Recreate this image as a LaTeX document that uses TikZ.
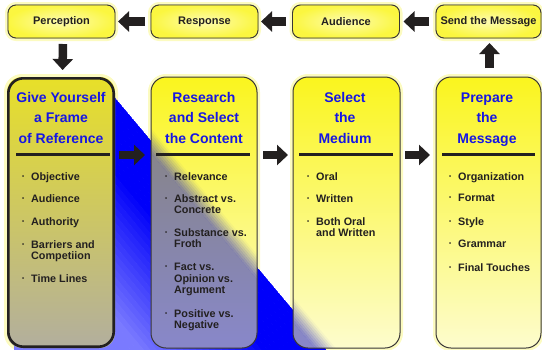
\documentclass[tikz,border=0pt]{standalone}
\usepackage{fontspec}
\setmainfont{Liberation Sans}
\usetikzlibrary{arrows.meta}
\definecolor{ttl}{RGB}{22,22,228}
\definecolor{ink}{RGB}{35,32,32}
\definecolor{deepb}{RGB}{0,0,250}
\definecolor{lightb}{RGB}{122,122,255}
\definecolor{ovl}{RGB}{20,20,200}
\definecolor{ylw}{RGB}{250,245,30}
\definecolor{ylwpale}{RGB}{253,252,205}
\definecolor{glowc}{RGB}{250,248,150}
\newcommand\mybands{%
  \foreach \i in {0,...,36}{%
    \pgfmathsetmacro\pc{max(0,min(100,(5*\i-45)*100/95))}%
    \fill[lightb!\pc!deepb] (-500,100+5*\i) rectangle (740,105.5+5*\i);
  }%
  \fill[lightb] (-500,285) rectangle (740,800);
}
\newcommand\myovl{%
  \foreach \k in {0,...,7}{%
    \pgfmathsetmacro\op{0.5*(\k+0.5)/8}%
    \fill[ovl, opacity=\op] (-500,92+2*\k) rectangle (740,94+2*\k);
  }%
  \fill[ovl, opacity=0.5] (-500,108) rectangle (740,800);
}
\newcommand\bul{\llap{\raisebox{1.8pt}{\fontsize{6}{6}\selectfont\textbullet}\hspace{7pt}}}
\begin{document}
\begin{tikzpicture}[x=1pt,y=-1pt,
  topbox/.style={rectangle, rounded corners=8pt, draw=ink!90, line width=0.9pt,
    minimum width=107pt, minimum height=33pt, inner sep=0pt, outer sep=0pt,
    inner color=ylw!35!white, outer color=ylw!85!white,
    font=\bfseries\fontsize{11}{13}\selectfont, text=ink},
  bigph/.style={rectangle, minimum height=271pt, inner sep=0pt, outer sep=0pt},
  ttlnode/.style={align=center, inner sep=0pt, text=ttl,
    font=\bfseries\fontsize{14}{20.5}\selectfont},
  item/.style={anchor=north west, align=left, inner sep=0pt, text=ink,
    font=\bfseries\fontsize{10.8}{11.6}\selectfont},
  rulel/.style={line width=3pt, draw=ink},
  barrow/.style={draw=ink, line width=8.5pt, -{Triangle[length=11pt,width=20pt]}},
  glow/.style={rounded corners=#1, draw=glowc, line width=6pt, opacity=0.6},
  thinb/.style={rounded corners=15pt, draw=ink!90, line width=1pt},
]
\useasboundingbox (0,0) rectangle (542,349);

% top boxes
\node[topbox] (perc) at (61.5,21.5) {};
\node[topbox] (resp) at (204.5,21.5) {};
\node[topbox] (aud) at (346,21.5) {};
\node[topbox, minimum width=105pt] (send) at (488.5,21.5) {};
\foreach \n in {perc,resp,aud,send}{\draw[glow=8pt] (\n.north west) rectangle (\n.south east);}
\node[topbox] at (perc) {Perception};
\node[topbox] at (resp) {Response};
\node[topbox] at (aud) {Audience};
\node[topbox, minimum width=105pt] at (send) {Send the Message};

% big box placeholders
\node[bigph, minimum width=108pt] (b1) at (61,212.5) {};
\node[bigph, minimum width=106pt] (b2) at (204,212.5) {};
\node[bigph, minimum width=107pt] (b3) at (346.5,212.5) {};
\node[bigph, minimum width=105pt] (b4) at (488.5,212.5) {};
\foreach \n in {b1,b2,b3,b4}{\draw[glow=15pt] (\n.north west) rectangle (\n.south east);}

% blue diagonal region
\begin{scope}
  \clip (14,90) -- (108.6,90) -- (330,354) -- (14,354) -- cycle;
  \begin{scope}[rotate around={-50:(117,100)}]
    \mybands
  \end{scope}
\end{scope}

% box fills
\shade[rounded corners=15pt, top color={rgb,255:red,232;green,224;blue,40},
  middle color={rgb,255:red,196;green,189;blue,104},
  bottom color={rgb,255:red,178;green,174;blue,158}] (b1.north west) rectangle (b1.south east);
\foreach \n in {b2,b3,b4}{%
  \shade[rounded corners=15pt, top color=ylw, middle color=ylw!70!ylwpale, bottom color=ylwpale]
    (\n.north west) rectangle (\n.south east);}

% blue seen through boxes 2 and 3
\foreach \n in {b2,b3}{%
\begin{scope}
  \clip[rounded corners=15pt] (\n.north west) rectangle (\n.south east);
  \begin{scope}[rotate around={-50:(117,100)}]
    \myovl
  \end{scope}
\end{scope}}

% borders
\draw[rounded corners=15pt, draw=ink, line width=2.6pt] ([shift={(1.3pt,-1.3pt)}]b1.north west) rectangle ([shift={(-1.3pt,1.3pt)}]b1.south east);
\foreach \n in {b2,b3,b4}{\draw[thinb] (\n.north west) rectangle (\n.south east);}

% titles
\node[ttlnode] (t1) at (61,118.4) {\strut Give Yourself\\a Frame\\\strut of Reference};
\node[ttlnode] (t2) at (204,118.4) {\strut Research\\and Select\\\strut the Content};
\node[ttlnode] (t3) at (345,118.4) {\strut Select\\the\\\strut Medium};
\node[ttlnode] (t4) at (487,118.4) {\strut Prepare\\the\\\strut Message};

% rules
\draw[rulel] (16,154) -- (110,154);
\draw[rulel] (156,154) -- (250,154);
\draw[rulel] (299,154) -- (393,154);
\draw[rulel] (442,154) -- (535,154);

% items box 1
\node[item] (i1a) at (31,172) {\bul Objective};
\node[item] (i1b) at (31,194) {\bul Audience};
\node[item] (i1c) at (31,217) {\bul Authority};
\node[item] (i1d) at (31,240) {\bul Barriers and\\Competiion};
\node[item] (i1e) at (31,274) {\bul Time Lines};
% items box 2
\node[item] (i2a) at (174,172) {\bul Relevance};
\node[item] (i2b) at (174,194) {\bul Abstract vs.\\Concrete};
\node[item] (i2c) at (174,228) {\bul Substance vs.\\Froth};
\node[item] (i2d) at (174,263) {\bul Fact vs.\\Opinion vs.\\Argument};
\node[item] (i2e) at (174,309) {\bul Positive vs.\\Negative};
% items box 3
\node[item] (i3a) at (316,172) {\bul Oral};
\node[item] (i3b) at (316,194) {\bul Written};
\node[item] (i3c) at (316,217) {\bul Both Oral\\and Written};
% items box 4
\node[item] (i4a) at (458,172) {\bul Organization};
\node[item] (i4b) at (458,194) {\bul Format};
\node[item] (i4c) at (458,217) {\bul Style};
\node[item] (i4d) at (458,240) {\bul Grammar};
\node[item] (i4e) at (458,263) {\bul Final Touches};

% arrows
\draw[barrow, shorten <=6pt, shorten >=3pt] (resp) -- (perc);
\draw[barrow, shorten <=7pt, shorten >=3pt] (aud) -- (resp);
\draw[barrow, shorten <=7pt, shorten >=4pt] (send) -- (aud);
\draw[barrow, shorten <=6pt, shorten >=7pt] ([xshift=1.5pt]perc.south) -- ([xshift=1.5pt]b1.north);
\draw[barrow, shorten <=9pt, shorten >=5pt] ([xshift=1pt]b4.north) -- ([xshift=1pt]send.south);
\draw[barrow, shorten <=4pt, shorten >=6pt] ([yshift=57.5pt]b1.east) -- ([yshift=57.5pt]b2.west);
\draw[barrow, shorten <=6pt, shorten >=5pt] ([yshift=57.5pt]b2.east) -- ([yshift=57.5pt]b3.west);
\draw[barrow, shorten <=5pt, shorten >=6pt] ([yshift=57.5pt]b3.east) -- ([yshift=57.5pt]b4.west);
\end{tikzpicture}
\end{document}
